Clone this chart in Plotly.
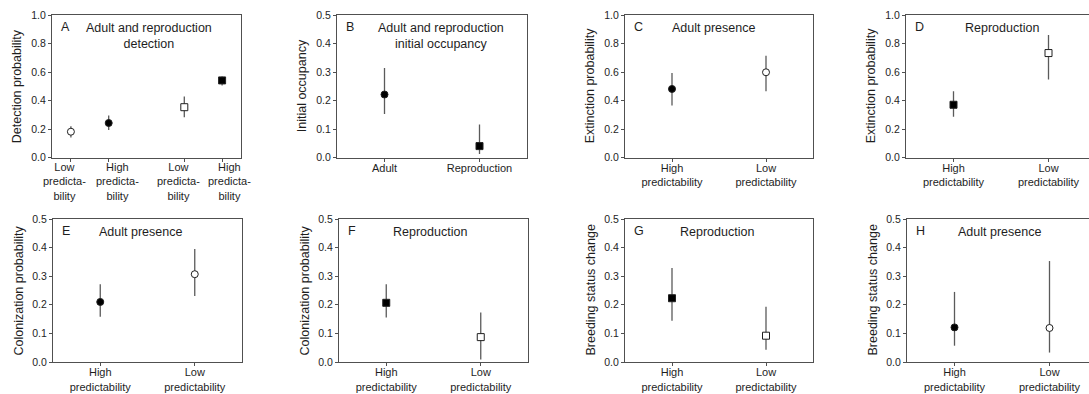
import plotly.graph_objects as go

# ---------------- data ----------------
a_x = [0.5, 1.5, 3.5, 4.5]
a_labels = ["Low<br>predicta-<br>bility", "High<br>predicta-<br>bility",
            "Low<br>predicta-<br>bility", "High<br>predicta-<br>bility"]
a_est = [0.181, 0.242, 0.353, 0.541]
a_lo = [0.140, 0.193, 0.282, 0.506]
a_hi = [0.220, 0.294, 0.428, 0.569]

b_labels = ["Adult", "Reproduction"]
b_est = [0.221, 0.040]
b_lo = [0.153, 0.012]
b_hi = [0.314, 0.116]

pred_labels = ["High<br>predictability", "Low<br>predictability"]
c_est = [0.481, 0.598]
c_lo = [0.365, 0.465]
c_hi = [0.593, 0.714]

d_est = [0.370, 0.733]
d_lo = [0.286, 0.547]
d_hi = [0.465, 0.860]

e_est = [0.210, 0.307]
e_lo = [0.158, 0.231]
e_hi = [0.272, 0.395]

f_est = [0.207, 0.087]
f_lo = [0.156, 0.009]
f_hi = [0.272, 0.173]

g_est = [0.223, 0.092]
g_lo = [0.144, 0.043]
g_hi = [0.329, 0.193]

h_est = [0.121, 0.119]
h_lo = [0.057, 0.033]
h_hi = [0.245, 0.353]

two_x = [0.5, 1.5]

# ---------------- styles ----------------
W, H = 1089, 394
FONT = "Liberation Sans, Arial, sans-serif"
TXT = "#1e1e1e"
AX = "#505050"
ERR = "#5a5a5a"

FC = ("circle", "black")     # filled circle
OC = ("circle", "white")     # open circle
FS = ("square", "black")     # filled square
OS = ("square", "white")     # open square

# horizontal nudges (px) of panel A's crowded category labels
a_label_shift = [-6, 9, -6, 7]

panels = [
    dict(letter="A", x=a_x, est=a_est, lo=a_lo, hi=a_hi, mk=[OC, FC, OS, FS], tt=a_labels,
         ymax=1.0, dtick=0.2, ytitle="Detection probability",
         title="Adult and reproduction<br>detection", tx=97, dom=(52, 241), row=0, xr=(0, 5),
         manual_labels=True),
    dict(letter="B", x=two_x, est=b_est, lo=b_lo, hi=b_hi, mk=[FC, FS], tt=b_labels,
         ymax=0.5, dtick=0.1, ytitle="Initial occupancy",
         title="Adult and reproduction<br>initial occupancy", tx=104, dom=(337, 527), row=0, xr=(0, 2)),
    dict(letter="C", x=two_x, est=c_est, lo=c_lo, hi=c_hi, mk=[FC, OC], tt=pred_labels,
         ymax=1.0, dtick=0.2, ytitle="Extinction probability",
         title="Adult presence", tx=88, dom=(625, 813), row=0, xr=(0, 2)),
    dict(letter="D", x=two_x, est=d_est, lo=d_lo, hi=d_hi, mk=[FS, OS], tt=pred_labels,
         ymax=1.0, dtick=0.2, ytitle="Extinction probability",
         title="Reproduction", tx=96, dom=(906, 1089), row=0, xr=(0, 2 * 183 / 190), cut=True),
    dict(letter="E", x=two_x, est=e_est, lo=e_lo, hi=e_hi, mk=[FC, OC], tt=pred_labels,
         ymax=0.5, dtick=0.1, ytitle="Colonization probability",
         title="Adult presence", tx=88, dom=(53, 242), row=1, xr=(0, 2)),
    dict(letter="F", x=two_x, est=f_est, lo=f_lo, hi=f_hi, mk=[FS, OS], tt=pred_labels,
         ymax=0.5, dtick=0.1, ytitle="Colonization probability",
         title="Reproduction", tx=91, dom=(339, 528), row=1, xr=(0, 2)),
    dict(letter="G", x=two_x, est=g_est, lo=g_lo, hi=g_hi, mk=[FS, OS], tt=pred_labels,
         ymax=0.5, dtick=0.1, ytitle="Breeding status change",
         title="Reproduction", tx=92, dom=(625, 813), row=1, xr=(0, 2)),
    dict(letter="H", x=two_x, est=h_est, lo=h_lo, hi=h_hi, mk=[FC, OC], tt=pred_labels,
         ymax=0.5, dtick=0.1, ytitle="Breeding status change",
         title="Adult presence", tx=92, dom=(907, 1089), row=1, xr=(0, 2 * 182 / 190), cut=True),
]

rows_px = [(15, 157.5), (219, 362)]

fig = go.Figure()
annotations = []
layout = {}

for i, p in enumerate(panels):
    n = i + 1
    xa = "x" if n == 1 else f"x{n}"
    ya = "y" if n == 1 else f"y{n}"
    xkey = "xaxis" if n == 1 else f"xaxis{n}"
    ykey = "yaxis" if n == 1 else f"yaxis{n}"

    plus = [h - e for h, e in zip(p["hi"], p["est"])]
    minus = [e - l for e, l in zip(p["est"], p["lo"])]
    fig.add_trace(go.Scatter(
        x=p["x"], y=p["est"], mode="markers", xaxis=xa, yaxis=ya, showlegend=False,
        marker=dict(symbol=[m[0] for m in p["mk"]], color=[m[1] for m in p["mk"]],
                    size=7, line=dict(color="#202020", width=1)),
        error_y=dict(type="data", symmetric=False, array=plus, arrayminus=minus,
                     color=ERR, thickness=1.3, width=0),
    ))

    top, bot = rows_px[p["row"]]
    x0, x1 = p["dom"]
    cut = p.get("cut", False)
    manual = p.get("manual_labels", False)
    layout[xkey] = dict(
        domain=[x0 / W, min(1.0, x1 / W)], range=list(p["xr"]), anchor=ya,
        tickvals=p["x"], ticktext=[""] * len(p["x"]) if manual else p["tt"],
        ticks="outside", ticklen=3, tickcolor=AX, ticklabelstandoff=-3,
        tickangle=0, automargin=False,
        showline=True, linecolor=AX, linewidth=1, mirror=True, showgrid=False,
        zeroline=False, fixedrange=True,
        tickfont=dict(family=FONT, size=11, color=TXT),
    )
    layout[ykey] = dict(
        domain=[1 - bot / H, 1 - top / H], range=[0, p["ymax"]], anchor=xa,
        dtick=p["dtick"], tick0=0, tickformat=".1f", ticks="outside", ticklen=3,
        automargin=False,
        tickcolor=AX, showline=True, linecolor=AX, linewidth=1,
        mirror=False if cut else True, showgrid=False, zeroline=False, fixedrange=True,
        tickfont=dict(family=FONT, size=10.5, color=TXT),
    )

    dref_x = f"{xa} domain"
    dref_y = f"{ya} domain"
    if manual:
        for xv, lab, sh in zip(p["x"], p["tt"], a_label_shift):
            annotations.append(dict(
                text=lab, xref=xa, yref=dref_y, x=xv, y=0, xanchor="center", yanchor="top",
                xshift=sh, yshift=-2, showarrow=False, align="center",
                font=dict(family=FONT, size=11, color=TXT)))
    annotations.append(dict(
        text=p["letter"], xref=dref_x, yref=dref_y, x=0, y=1, xanchor="left", yanchor="middle",
        xshift=7, yshift=-12, showarrow=False, font=dict(family=FONT, size=12.5, color=TXT)))
    dom_w = min(x1, W) - x0
    annotations.append(dict(
        text=p["title"], xref=dref_x, yref=dref_y, x=p["tx"] / dom_w, y=1,
        xanchor="center", yanchor="top", yshift=-4, showarrow=False, align="center",
        font=dict(family=FONT, size=12.5, color=TXT)))
    annotations.append(dict(
        text=p["ytitle"], xref=dref_x, yref=dref_y, x=0, y=0.5, xanchor="center",
        yanchor="middle", xshift=-35, textangle=-90, showarrow=False,
        font=dict(family=FONT, size=12.5, color=TXT)))

fig.update_layout(
    width=W, height=H, margin=dict(l=0, r=0, t=0, b=0, autoexpand=False),
    paper_bgcolor="white", plot_bgcolor="white",
    annotations=annotations, font=dict(family=FONT, color=TXT),
    **layout,
)

fig.write_html("out.html", config={"displayModeBar": False},
               post_script="document.body.style.margin='0';document.body.style.overflow='hidden';")
